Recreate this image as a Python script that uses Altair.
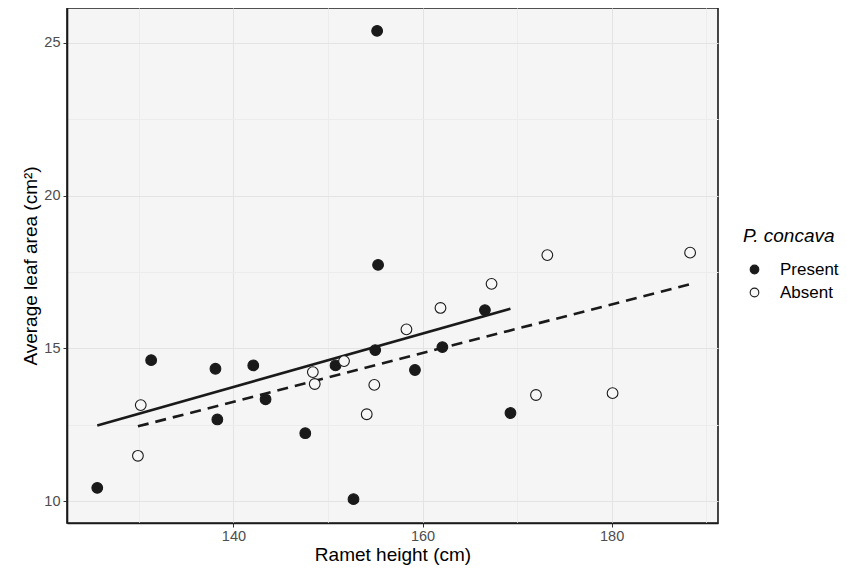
import altair as alt
import pandas as pd

# Data
present_x = [125.6, 131.3, 138.1, 138.3, 142.1, 143.4, 147.6, 150.8, 152.7, 155.0, 155.3, 155.2, 159.2, 162.1, 166.6, 169.3]
present_y = [10.43, 14.61, 14.33, 12.67, 14.44, 13.33, 12.22, 14.44, 10.06, 14.94, 17.73, 25.39, 14.29, 15.04, 16.25, 12.88]
absent_x = [130.2, 129.9, 148.4, 148.6, 151.7, 154.9, 154.1, 158.3, 161.9, 167.3, 173.2, 188.3, 172.0, 180.1]
absent_y = [13.14, 11.48, 14.22, 13.83, 14.58, 13.80, 12.84, 15.62, 16.32, 17.11, 18.05, 18.13, 13.47, 13.53]
groups = ["Present", "Absent"]

x_grid = [130, 140, 150, 160, 170, 180, 190]
y_grid = [10, 12.5, 15, 17.5, 20, 22.5, 25]

df = pd.DataFrame({
    "height": present_x + absent_x,
    "area": present_y + absent_y,
    "group": [groups[0]] * len(present_x) + [groups[1]] * len(absent_x),
})

FONT = "Liberation Sans"
INK = "#1a1a1a"

x_enc = alt.X(
    "height:Q",
    scale=alt.Scale(domain=[122.4, 191.25], nice=False, zero=False),
    axis=alt.Axis(
        title="Ramet height (cm)",
        values=x_grid,
        labelExpr="datum.value % 20 == 0 ? datum.label : ''",
        tickOpacity={"condition": {"test": "datum.value % 20 != 0", "value": 0}, "value": 1},
        gridColor={"condition": {"test": "datum.value % 20 != 0", "value": "#ececec"}, "value": "#e3e3e3"},
    ),
)
y_enc = alt.Y(
    "area:Q",
    scale=alt.Scale(domain=[9.28, 26.14], nice=False, zero=False),
    axis=alt.Axis(
        title="Average leaf area (cm²)",
        values=y_grid,
        labelExpr="datum.value % 5 == 0 ? datum.label : ''",
        tickOpacity={"condition": {"test": "datum.value % 5 != 0", "value": 0}, "value": 1},
        gridColor={"condition": {"test": "datum.value % 5 != 0", "value": "#ececec"}, "value": "#e3e3e3"},
    ),
)

base = alt.Chart(df)

line_present = base.transform_filter(
    alt.datum.group == groups[0]
).transform_regression(
    "height", "area"
).mark_line(color=INK, strokeWidth=2.6).encode(x=x_enc, y=y_enc)

line_absent = base.transform_filter(
    alt.datum.group == groups[1]
).transform_regression(
    "height", "area"
).mark_line(color=INK, strokeWidth=2.6, strokeDash=[11, 7]).encode(x=x_enc, y=y_enc)

points = base.mark_point(
    shape="circle", size=115, strokeWidth=1.1, opacity=1, filled=True, stroke=INK, fillOpacity=1
).encode(
    x=x_enc,
    y=y_enc,
    color=alt.Color(
        "group:N",
        scale=alt.Scale(domain=groups, range=[INK, "#f7f7f7"]),
        legend=alt.Legend(
            title="P. concava",
            orient="none",
            legendX=676,
            legendY=219,
            padding=0,
            titleFontStyle="italic",
            titleFontWeight="normal",
            titleFontSize=19,
            titleColor="#000000",
            titleFont=FONT,
            labelFontSize=17,
            labelFont=FONT,
            labelColor="#000000",
            labelOffset=17,
            symbolOffset=3,
            symbolType="circle",
            symbolSize=75,
            symbolStrokeColor=INK,
            symbolStrokeWidth=1.1,
            rowPadding=5,
            titlePadding=15,
        ),
    ),
)

chart = alt.layer(line_present, line_absent, points).properties(
    width=651,
    height=515,
    background="white",
    autosize=alt.AutoSizeParams(type="none"),
    padding={"left": 59, "top": 0, "right": 121, "bottom": 47},
).configure_view(
    fill="#f5f5f5", stroke=INK, strokeWidth=1.6
).configure_axis(
    domain=True,
    domainColor=INK,
    domainWidth=1.6,
    tickColor="#333333",
    tickSize=4,
    labelColor="#4d4d4d",
    labelFont=FONT,
    labelFontSize=14.5,
    labelPadding=3,
    titleFont=FONT,
    titleFontSize=19,
    titleFontWeight="normal",
    titleColor="#000000",
    gridWidth=1,
).configure_axisX(
    labelPadding=2,
    titlePadding=3,
).configure_axisY(
    titlePadding=3,
)

chart.save("out.html", embed_options={"renderer": "svg", "actions": False})
